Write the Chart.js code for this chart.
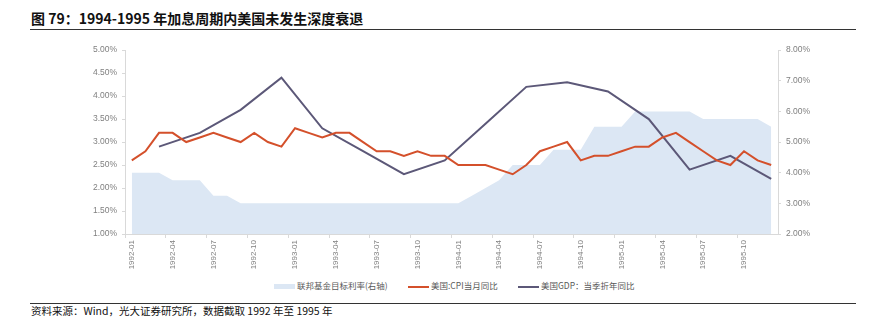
<!DOCTYPE html>
<html>
<head>
<meta charset="utf-8">
<script src="https://cdn.jsdelivr.net/npm/chart.js@4/dist/chart.umd.min.js"></script>
<style>
    body { margin: 0; background: #fff; }
    #wrap { position: relative; width: 885px; height: 335px; font-family: "Noto Sans CJK SC", sans-serif; }
    #title { position: absolute; left: 31px; top: 8px; font-size: 14px; font-weight: bold; color: #111; white-space: nowrap; }
    .rule { position: absolute; left: 30px; width: 826px; height: 1px; background: #333; }
    #chartBox { position: absolute; left: 0; top: 40px; }
    #legend { position: absolute; top: 277px; left: 0; width: 885px; height: 16px; font-size: 8.5px; color: #595959; }
    .item { position: absolute; top: 0; white-space: nowrap; line-height: 16px; }
    .sw { display: inline-block; vertical-align: middle; width: 21px; margin-right: 2px; }
    #source { position: absolute; left: 31px; top: 303px; font-size: 10.5px; color: #111; white-space: nowrap; }
</style>
</head>
<body>
<div id="wrap">
    <div id="title">图 79：1994-1995 年加息周期内美国未发生深度衰退</div>
    <div class="rule" style="top: 29px;"></div>
    <div id="chartBox"><canvas id="mainChart" width="885" height="236"></canvas></div>
    <div id="legend">
        <div class="item" style="left: 274px;"><span class="sw" style="height: 5px; background: #dce7f4;"></span>联邦基金目标利率(右轴)</div>
        <div class="item" style="left: 408px;"><span class="sw" style="height: 2px; background: #d4502b;"></span>美国:CPI当月同比</div>
        <div class="item" style="left: 518px;"><span class="sw" style="height: 2px; background: #5c5878;"></span>美国GDP：当季折年同比</div>
    </div>
    <div class="rule" style="top: 303px;"></div>
    <div id="source">资料来源：Wind，光大证券研究所，数据截取 1992 年至 1995 年</div>
</div>
<script>
// months 1992-01 .. 1995-12
const years = [1992, 1993, 1994, 1995];
const months = [];
years.forEach(y => {
    for (let m = 1; m <= 12; m++) months.push(y + '-' + String(m).padStart(2, '0'));
});

// 联邦基金目标利率 (right axis)
const fedRate = [
    4.00, 4.00, 4.00, 3.75, 3.75, 3.75, 3.25, 3.25, 3.00, 3.00, 3.00, 3.00,
    3.00, 3.00, 3.00, 3.00, 3.00, 3.00, 3.00, 3.00, 3.00, 3.00, 3.00, 3.00,
    3.00, 3.25, 3.50, 3.75, 4.25, 4.25, 4.25, 4.75, 4.75, 4.75, 5.50, 5.50,
    5.50, 6.00, 6.00, 6.00, 6.00, 6.00, 5.75, 5.75, 5.75, 5.75, 5.75, 5.50
];

// 美国:CPI当月同比
const cpi = [
    2.6, 2.8, 3.2, 3.2, 3.0, 3.1, 3.2, 3.1, 3.0, 3.2, 3.0, 2.9,
    3.3, 3.2, 3.1, 3.2, 3.2, 3.0, 2.8, 2.8, 2.7, 2.8, 2.7, 2.7,
    2.5, 2.5, 2.5, 2.4, 2.3, 2.5, 2.8, 2.9, 3.0, 2.6, 2.7, 2.7,
    2.8, 2.9, 2.9, 3.1, 3.2, 3.0, 2.8, 2.6, 2.5, 2.8, 2.6, 2.5
];

// 美国GDP：当季折年同比 (quarter-end months only)
const gdp = [
    null, null, 2.9, null, null, 3.2, null, null, 3.7, null, null, 4.4,
    null, null, 3.3, null, null, 2.8, null, null, 2.3, null, null, 2.6,
    null, null, 3.4, null, null, 4.2, null, null, 4.3, null, null, 4.1,
    null, null, 3.5, null, null, 2.4, null, null, 2.7, null, null, 2.2
];

const leftTicks = [1.0, 1.5, 2.0, 2.5, 3.0, 3.5, 4.0, 4.5, 5.0];
const rightTicks = [2, 3, 4, 5, 6, 7, 8];

const axisColor = '#d9d9d9';
const labelFont = { family: '"Liberation Sans", Arial, sans-serif', size: 8.5 };

const ctx = document.getElementById('mainChart').getContext('2d');
new Chart(ctx, {
    type: 'line',
    data: {
        labels: months,
        datasets: [
            {
                label: '美国:CPI当月同比',
                data: cpi,
                yAxisID: 'yL',
                borderColor: '#d4502b',
                borderWidth: 2,
                pointRadius: 0,
                tension: 0,
                fill: false,
                order: 1
            },
            {
                label: '美国GDP：当季折年同比',
                data: gdp,
                yAxisID: 'yL',
                borderColor: '#5c5878',
                borderWidth: 2,
                pointRadius: 0,
                tension: 0,
                spanGaps: true,
                fill: false,
                order: 2
            },
            {
                label: '联邦基金目标利率(右轴)',
                data: fedRate,
                yAxisID: 'yR',
                borderWidth: 0,
                borderColor: 'rgba(0,0,0,0)',
                backgroundColor: '#dce7f4',
                pointRadius: 0,
                tension: 0,
                fill: 'start',
                order: 3
            }
        ]
    },
    options: {
        responsive: false,
        animation: false,
        layout: { padding: { top: 10, left: 0, right: 0, bottom: 0 } },
        plugins: {
            legend: { display: false },
            tooltip: { enabled: false }
        },
        scales: {
            x: {
                offset: true,
                afterFit: s => { s.height = 42; },
                border: { display: true, color: axisColor },
                grid: {
                    offset: true,
                    drawOnChartArea: false,
                    tickLength: 4,
                    color: c => (c.index % 3 === 0 ? axisColor : 'rgba(0,0,0,0)')
                },
                ticks: {
                    autoSkip: false,
                    minRotation: 90,
                    maxRotation: 90,
                    padding: 2,
                    color: '#808080',
                    font: { family: labelFont.family, size: 8 },
                    callback: (v, i) => (i % 3 === 0 ? months[i] : '')
                }
            },
            yL: {
                position: 'left',
                min: 1,
                max: 5,
                afterFit: s => { s.width = 125; },
                afterBuildTicks: s => { s.ticks = leftTicks.map(v => ({ value: v })); },
                border: { display: true, color: axisColor },
                grid: { drawOnChartArea: false, tickLength: 3, color: axisColor },
                ticks: {
                    padding: 5,
                    color: '#808080',
                    font: labelFont,
                    callback: v => v.toFixed(2) + '%'
                }
            },
            yR: {
                position: 'right',
                min: 2,
                max: 8,
                afterFit: s => { s.width = 107; },
                afterBuildTicks: s => { s.ticks = rightTicks.map(v => ({ value: v })); },
                border: { display: true, color: axisColor },
                grid: { drawOnChartArea: false, tickLength: 3, color: axisColor },
                ticks: {
                    padding: 5,
                    color: '#808080',
                    font: labelFont,
                    callback: v => v.toFixed(2) + '%'
                }
            }
        }
    }
});
</script>
</body>
</html>
